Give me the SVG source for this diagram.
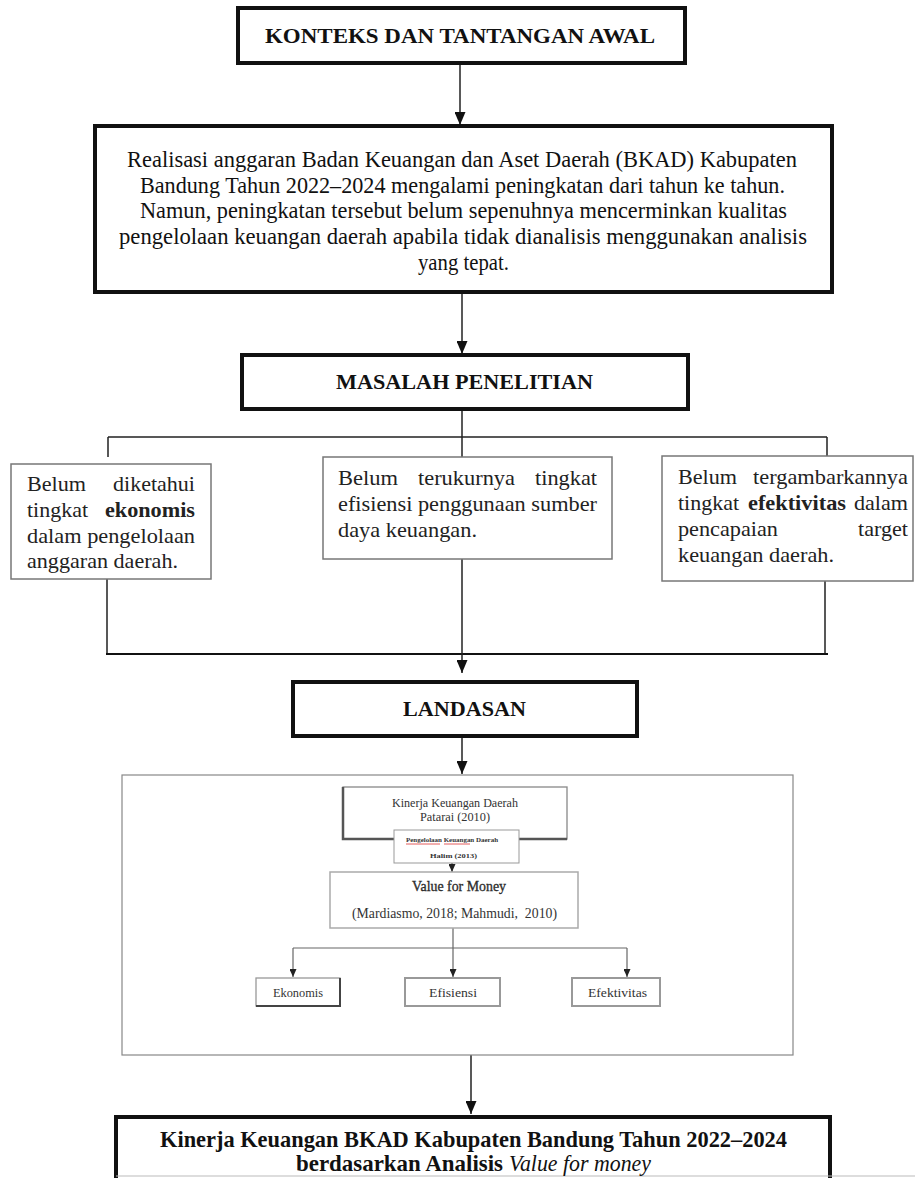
<svg xmlns="http://www.w3.org/2000/svg" width="915" height="1178" viewBox="0 0 915 1178">
<style>
.hd{font-family:"Liberation Serif",serif;font-weight:bold;font-size:22px;fill:#111}
.bx{fill:#fff;stroke:#111;stroke-width:4}
.t2{font-family:"Liberation Serif",serif;font-size:23px;fill:#111}
.pb{font-family:"Liberation Serif",serif;font-size:21px;fill:#222}
.pbox{fill:#fff;stroke:#777;stroke-width:1.5}
.ln{stroke:#222;stroke-width:1.5;fill:none}
.sm{font-family:"Liberation Serif",serif;fill:#333}
.fin{font-family:"Liberation Serif",serif;font-size:23px;fill:#111}
</style>
<defs>
<marker id="ah" markerUnits="userSpaceOnUse" markerWidth="13" markerHeight="11" refX="13" refY="5.5" orient="auto"><path d="M0,0 L13,5.5 L0,11 z" fill="#111"/></marker>
<marker id="as" markerUnits="userSpaceOnUse" markerWidth="8" markerHeight="7" refX="8" refY="3.5" orient="auto"><path d="M0,0 L8,3.5 L0,7 z" fill="#222"/></marker>
</defs>
<rect width="915" height="1178" fill="#fff"/>
<g id="connectors">
<path class="ln" d="M460,63 V125" marker-end="url(#ah)"/>
<path class="ln" d="M462,292 V354" marker-end="url(#ah)"/>
<path class="ln" d="M462,409 V457"/>
<path class="ln" d="M108,437 H827 M108,437 V457 M827,437 V456"/>
<path class="ln" d="M107,579 V654 M825,581 V654"/>
<path d="M106,654 H828" stroke="#111" stroke-width="2"/>
<path class="ln" d="M462,559 V673" marker-end="url(#ah)"/>
<path class="ln" d="M462,735 V774" marker-end="url(#ah)"/>
<path d="M452,863 V872" stroke="#222" stroke-width="1" marker-end="url(#as)"/>
<path d="M453,928 V948 M293,948 H627" stroke="#666" stroke-width="1.2" fill="none"/>
<path d="M293,948 V977" stroke="#666" stroke-width="1.2" marker-end="url(#as)"/>
<path d="M453,948 V977" stroke="#666" stroke-width="1.2" marker-end="url(#as)"/>
<path d="M627,948 V977" stroke="#666" stroke-width="1.2" marker-end="url(#as)"/>
<path class="ln" d="M471,1055 V1114" marker-end="url(#ah)"/>
</g>
<g id="n-konteks">
<rect class="bx" x="238" y="8" width="447" height="55"/>
<text class="hd" x="265" y="43" textLength="390" lengthAdjust="spacingAndGlyphs">KONTEKS DAN TANTANGAN AWAL</text>
</g>
<g id="n-realisasi">
<rect class="bx" x="95" y="126" width="737" height="166" stroke-width="3.5"/>
<text class="t2" x="127" y="167" textLength="670" lengthAdjust="spacingAndGlyphs">Realisasi anggaran Badan Keuangan dan Aset Daerah (BKAD) Kabupaten</text>
<text class="t2" x="140" y="193" textLength="645" lengthAdjust="spacingAndGlyphs">Bandung Tahun 2022–2024 mengalami peningkatan dari tahun ke tahun.</text>
<text class="t2" x="140" y="218" textLength="647" lengthAdjust="spacingAndGlyphs">Namun, peningkatan tersebut belum sepenuhnya mencerminkan kualitas</text>
<text class="t2" x="119" y="244" textLength="688" lengthAdjust="spacingAndGlyphs">pengelolaan keuangan daerah apabila tidak dianalisis menggunakan analisis</text>
<text class="t2" x="418" y="270" textLength="91" lengthAdjust="spacingAndGlyphs">yang tepat.</text>
</g>
<g id="n-masalah">
<rect class="bx" x="242" y="355" width="446" height="54"/>
<text class="hd" x="336" y="389" textLength="257" lengthAdjust="spacingAndGlyphs">MASALAH PENELITIAN</text>
</g>
<g id="n-ekonomis-problem">
<rect class="pbox" x="11" y="464" width="200" height="115"/>
<text class="pb" x="27" y="491" textLength="59" lengthAdjust="spacingAndGlyphs">Belum</text>
<text class="pb" x="113" y="491" textLength="82" lengthAdjust="spacingAndGlyphs">diketahui</text>
<text class="pb" x="27" y="517" textLength="61" lengthAdjust="spacingAndGlyphs">tingkat</text>
<text class="pb" x="105" y="517" textLength="90" lengthAdjust="spacingAndGlyphs" font-weight="bold">ekonomis</text>
<text class="pb" x="27" y="543" textLength="168" lengthAdjust="spacingAndGlyphs">dalam pengelolaan</text>
<text class="pb" x="27" y="568" textLength="151" lengthAdjust="spacingAndGlyphs">anggaran daerah.</text>
</g>
<g id="n-efisiensi-problem">
<rect class="pbox" x="323" y="457" width="289" height="102"/>
<text class="pb" x="338" y="485" textLength="60" lengthAdjust="spacingAndGlyphs">Belum</text>
<text class="pb" x="418" y="485" textLength="97" lengthAdjust="spacingAndGlyphs">terukurnya</text>
<text class="pb" x="535" y="485" textLength="62" lengthAdjust="spacingAndGlyphs">tingkat</text>
<text class="pb" x="338" y="511" textLength="259" lengthAdjust="spacingAndGlyphs">efisiensi penggunaan sumber</text>
<text class="pb" x="338" y="537" textLength="139" lengthAdjust="spacingAndGlyphs">daya keuangan.</text>
</g>
<g id="n-efektivitas-problem">
<rect class="pbox" x="662" y="456" width="251" height="125"/>
<text class="pb" x="678" y="484" textLength="59" lengthAdjust="spacingAndGlyphs">Belum</text>
<text class="pb" x="753" y="484" textLength="155" lengthAdjust="spacingAndGlyphs">tergambarkannya</text>
<text class="pb" x="678" y="510" textLength="61" lengthAdjust="spacingAndGlyphs">tingkat</text>
<text class="pb" x="748" y="510" textLength="98" lengthAdjust="spacingAndGlyphs" font-weight="bold">efektivitas</text>
<text class="pb" x="854" y="510" textLength="54" lengthAdjust="spacingAndGlyphs">dalam</text>
<text class="pb" x="678" y="536" textLength="100" lengthAdjust="spacingAndGlyphs">pencapaian</text>
<text class="pb" x="858" y="536" textLength="50" lengthAdjust="spacingAndGlyphs">target</text>
<text class="pb" x="678" y="562" textLength="156" lengthAdjust="spacingAndGlyphs">keuangan daerah.</text>
</g>
<g id="n-landasan">
<rect class="bx" x="293" y="682" width="344" height="54" stroke-width="3.5"/>
<text class="hd" x="403" y="716" textLength="123" lengthAdjust="spacingAndGlyphs">LANDASAN</text>
</g>
<g id="n-frame">
<rect x="122" y="775" width="671" height="280" fill="none" stroke="#888" stroke-width="1.2"/>
</g>
<g id="n-kinerja">
<rect x="343" y="787" width="224" height="52" fill="#fff" stroke="#888" stroke-width="1.3"/>
<path d="M343,787 V839 H567" fill="none" stroke="#555" stroke-width="2.5"/>
<text class="sm" x="392" y="807" font-size="12" textLength="126" lengthAdjust="spacingAndGlyphs">Kinerja Keuangan Daerah</text>
<text class="sm" x="420" y="821" font-size="12" textLength="70" lengthAdjust="spacingAndGlyphs">Patarai (2010)</text>
</g>
<g id="n-pengelolaan">
<rect x="394" y="830" width="125" height="33" fill="#fff" stroke="#999" stroke-width="1"/>
<text class="sm" x="406" y="842" font-size="7" font-weight="bold" textLength="92" lengthAdjust="spacingAndGlyphs">Pengelolaan Keuangan Daerah</text>
<path d="M406,844 H440 M444,844 H470" stroke="#d33" stroke-width="0.8" fill="none"/>
<text class="sm" x="430" y="858" font-size="7" font-weight="bold" textLength="47" lengthAdjust="spacingAndGlyphs">Halim (2013)</text>
</g>
<g id="n-vfm">
<rect x="330" y="872" width="248" height="56" fill="#fff" stroke="#aaa" stroke-width="1.5"/>
<text class="sm" x="412" y="891" font-size="14" fill="#222" stroke="#222" stroke-width="0.3" textLength="94" lengthAdjust="spacingAndGlyphs">Value for Money</text>
<text class="sm" x="352" y="918" font-size="14" xml:space="preserve" textLength="205" lengthAdjust="spacingAndGlyphs">(Mardiasmo, 2018; Mahmudi,  2010)</text>
</g>
<g id="n-ekonomis">
<rect x="256" y="978" width="84" height="28" fill="#fff" stroke="#999" stroke-width="1.3"/>
<path d="M256,1006 H340 V978" fill="none" stroke="#444" stroke-width="2"/>
<text class="sm" x="273" y="997" font-size="13" textLength="50" lengthAdjust="spacingAndGlyphs">Ekonomis</text>
</g>
<g id="n-efisiensi">
<rect x="405" y="978" width="95" height="28" fill="#fff" stroke="#999" stroke-width="2"/>
<text class="sm" x="429" y="997" font-size="13" textLength="48" lengthAdjust="spacingAndGlyphs">Efisiensi</text>
</g>
<g id="n-efektivitas">
<rect x="572" y="978" width="88" height="28" fill="#fff" stroke="#999" stroke-width="2"/>
<text class="sm" x="588" y="997" font-size="13" textLength="59" lengthAdjust="spacingAndGlyphs">Efektivitas</text>
</g>
<g id="n-hasil">
<path d="M116,1180 V1117 H830 V1180" fill="#fff" stroke="#111" stroke-width="4"/>
<path d="M116,1176 H915" stroke="#bbb" stroke-width="1"/>
<text class="fin" x="160" y="1147" font-weight="bold" textLength="627" lengthAdjust="spacingAndGlyphs">Kinerja Keuangan BKAD Kabupaten Bandung Tahun 2022–2024</text>
<text class="fin" x="296" y="1171" font-weight="bold" textLength="207" lengthAdjust="spacingAndGlyphs">berdasarkan Analisis</text>
<text class="fin" x="509" y="1171" font-style="italic" textLength="142" lengthAdjust="spacingAndGlyphs">Value for money</text>
</g>
</svg>
